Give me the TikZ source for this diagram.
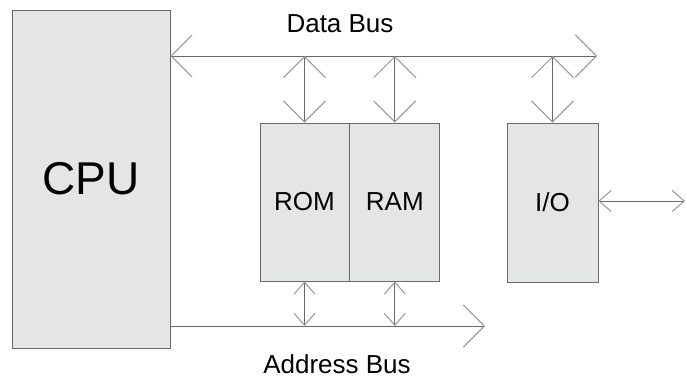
\documentclass[tikz,border=0pt]{standalone}
\usepackage{fontspec}
\setmainfont{Liberation Sans}
\usetikzlibrary{positioning,arrows.meta}
\definecolor{boxgray}{RGB}{227,230,228}
\definecolor{linegray}{RGB}{105,105,105}
\definecolor{headgray}{RGB}{150,150,150}

\begin{document}
\begin{tikzpicture}[x=1pt,y=-1pt]
            \tikzset{
                unit/.style={draw=linegray,fill=boxgray,inner sep=0pt,line width=0.8pt,font=\fontsize{26}{30}\selectfont},
                bus/.style={draw=linegray,line width=0.9pt},
                buslabel/.style={font=\fontsize{26}{30}\selectfont,anchor=base,inner sep=0pt,text depth=0pt},
                dbtip/.tip={Straight Barb[length=21pt,width=42pt,line width=1pt,color=headgray]},
                abtip/.tip={Straight Barb[length=12pt,width=21pt,line width=1pt,color=headgray]},}
            \useasboundingbox (0,0) rectangle (686,379);
            \node[unit,minimum width=158pt,minimum height=338pt,font=\fontsize{46}{50}\selectfont] (cpu) at (91,179) {CPU};
            \node[unit,minimum width=89pt,minimum height=158pt] (rom) at (304.5,202) {ROM};
            \node[unit,minimum width=90pt,minimum height=158pt,right=0pt of rom] (ram) {RAM};
            \node[unit,minimum width=91pt,minimum height=159pt] (io) at (552.5,202.5) {I/O};
            % buses
            \coordinate (db end) at (597,56);
            \coordinate (ab end) at (485,326);
            \coordinate (io out) at (685,201);
            \draw[bus,{dbtip}-{dbtip}] (cpu.east |- db end) -- (db end);
            \draw[bus,-{dbtip}] (cpu.east |- ab end) -- (ab end);
            \draw[bus,{dbtip}-{dbtip}] (rom.north |- db end) -- (rom.north);
            \draw[bus,{dbtip}-{dbtip}] (ram.north |- db end) -- (ram.north);
            \draw[bus,{dbtip}-{dbtip}] (io.north |- db end) -- (io.north);
            \draw[bus,{abtip}-{abtip}] (rom.south) -- (rom.south |- ab end);
            \draw[bus,{abtip}-{abtip}] (ram.south) -- (ram.south |- ab end);
            \draw[bus,{abtip}-{abtip}] (io.east |- io out) -- (io out);
            \node[buslabel] (db label) at (340,33) {Data Bus};
            \node[buslabel] (ab label) at (337,374) {Address Bus};
        \end{tikzpicture}
\end{document}
